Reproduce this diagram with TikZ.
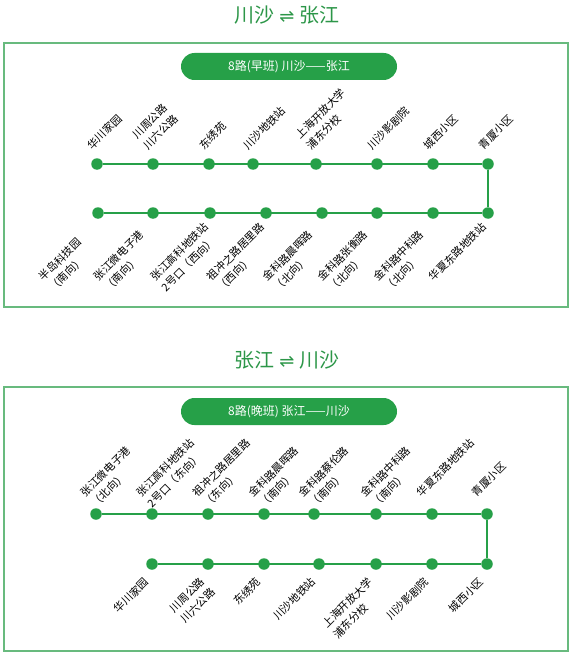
\documentclass[tikz,border=0pt]{standalone}
\usepackage{fontspec}
\setmainfont{Noto Sans CJK SC}
\newfontfamily\arrowfont{DejaVu Sans}
\usetikzlibrary{calc}

\definecolor{busgreen}{RGB}{38,160,72}
\definecolor{edgegreen}{RGB}{104,186,126}
\definecolor{titlegreen}{RGB}{44,150,72}

\begin{document}
\begin{tikzpicture}[x=1pt, y=-1pt,
      font=\fontsize{10.8}{15}\selectfont,
      heading/.style={text=titlegreen, inner sep=0pt,
                      font=\fontsize{20}{22}\selectfont},
      panel/.style={draw=edgegreen, line width=1.7pt},
      banner/.style={fill=busgreen, text=white, rounded corners=13.5pt,
                     minimum width=216pt, minimum height=27pt, inner sep=0pt,
                     font=\fontsize{12}{14}\selectfont},
      stn/.style={circle, fill=busgreen, minimum size=11.5pt, inner sep=0pt},
      track/.style={draw=busgreen, line width=2.6pt},
      lab/.style={rotate=45, align=left, inner sep=0pt}]

    \useasboundingbox (0,0) rectangle (574,658);

    % morning run
    \node[heading] (head1) at (287,15)
      {川沙\hspace{5pt}{\arrowfont\fontsize{18}{18}\selectfont ⇌}\hspace{5pt}张江};
    \draw[panel] (4,43) rectangle (568,307);
    \node[banner] (bar1) at (289,66.5) {8路(早班) 川沙——张江};

    \foreach \n/\x/\t in {1/97/华川家园, 2/153/{川周公路\\川六公路},
        3/209/东绣苑, 4/253/川沙地铁站, 5/316/{上海开放大学\\浦东分校},
        6/377/川沙影剧院, 7/433/城西小区, 8/488/青厦小区}{
      \node[stn] (a\n) at (\x,164) {};
      \node[lab, anchor=south west] at ($(a\n)+(-4,-13)$) {\t};
    }
    \foreach \n/\x/\t in {1/98/{半岛科技园\\（南向）}, 2/153/{张江微电子港\\（南向）},
        3/210/{张江高科地铁站\\2号口（西向）}, 4/266/{祖冲之路居里路\\（西向）},
        5/322/{金科路晨晖路\\（北向）}, 6/377/{金科路张衡路\\（北向）},
        7/433/{金科路中科路\\（北向）}, 8/488/华夏东路地铁站}{
      \node[stn] (b\n) at (\x,213) {};
      \node[lab, anchor=north west] at ($(b\n)+(-61,62)$) {\t};
    }
    \draw[track] (a1) -- (a8) -- (b8) -- (b1);

    % evening run
    \node[heading] (head2) at (287,360)
      {张江\hspace{5pt}{\arrowfont\fontsize{18}{18}\selectfont ⇌}\hspace{5pt}川沙};
    \draw[panel] (4,387) rectangle (568,651);
    \node[banner] (bar2) at (289,411.5) {8路(晚班) 张江——川沙};

    \foreach \n/\x/\t in {1/96/{张江微电子港\\（北向）}, 2/152/{张江高科地铁站\\2号口（东向）},
        3/208/{祖冲之路居里路\\（东向）}, 4/264/{金科路晨晖路\\（南向）},
        5/314/{金科路蔡伦路\\（南向）}, 6/376/{金科路中科路\\（南向）},
        7/432/华夏东路地铁站, 8/487/青厦小区}{
      \node[stn] (c\n) at (\x,514) {};
      \node[lab, anchor=north west] at ($(c\n)+(-17,-23)$) {\t};
    }
    \foreach \n/\x/\t in {1/152/华川家园, 2/208/{川周公路\\川六公路},
        3/264/东绣苑, 4/319/川沙地铁站, 5/376/{上海开放大学\\浦东分校},
        6/432/川沙影剧院, 7/487/城西小区}{
      \node[stn] (d\n) at (\x,564) {};
      \node[lab, anchor=north east] at ($(d\n)+(-9,12)$) {\t};
    }
    \draw[track] (c1) -- (c8) -- (d7) -- (d1);
  \end{tikzpicture}
\end{document}
